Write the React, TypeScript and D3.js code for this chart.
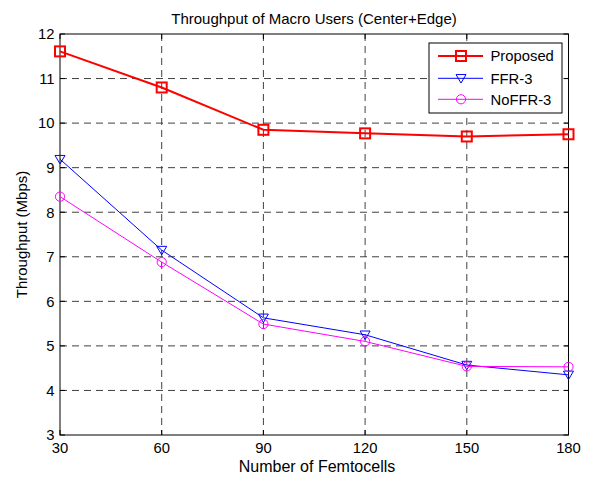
import React from "react";
import * as d3 from "d3";

const femtocells = [30, 60, 90, 120, 150, 180];
const proposed = [11.61, 10.8, 9.85, 9.77, 9.7, 9.75];
const ffr3 = [9.19, 7.15, 5.63, 5.25, 4.57, 4.35];
const noffr3 = [8.35, 6.88, 5.49, 5.1, 4.54, 4.53];
const xTicks = [30, 60, 90, 120, 150, 180];
const yTicks = [3, 4, 5, 6, 7, 8, 9, 10, 11, 12];
const seriesNames = ["Proposed", "FFR-3", "NoFFR-3"];

const W = 591, H = 477;
const M = { left: 60, right: 568.5, top: 34, bottom: 435 };
const FONT = "Liberation Sans, Arial, sans-serif";
const FS = 14.8;

function Marker({ type, x, y, color }: { type: string; x: number; y: number; color: string }) {
  if (type === "square") {
    return <rect x={x - 5} y={y - 5} width={10} height={10} fill="none" stroke={color} strokeWidth={2} />;
  }
  if (type === "tri") {
    const s = 5;
    return <path d={`M${x - s},${y - s * 0.75}L${x + s},${y - s * 0.75}L${x},${y + s * 0.95}Z`} fill="none" stroke={color} strokeWidth={1} />;
  }
  return <circle cx={x} cy={y} r={4.6} fill="none" stroke={color} strokeWidth={1} />;
}

export default function App() {
  const x = d3.scaleLinear().domain([30, 180]).range([M.left, M.right]);
  const y = d3.scaleLinear().domain([3, 12]).range([M.bottom, M.top]);
  const line = d3.line<number>().x((_, i) => x(femtocells[i])).y((d) => y(d));

  const series = [
    { name: seriesNames[0], data: proposed, color: "#ff0000", width: 2, marker: "square" },
    { name: seriesNames[1], data: ffr3, color: "#0000ff", width: 1, marker: "tri" },
    { name: seriesNames[2], data: noffr3, color: "#ff00ff", width: 1, marker: "circle" },
  ];

  const grid = "#404040";
  const legend = { x: 429, y: 43, w: 133, h: 70 };
  const rowY = [56, 78.3, 99.3];

  return (
    <svg width={W} height={H} style={{ position: "absolute", left: 0, top: 0, background: "#fff" }} fontFamily={FONT}>
      <rect x={0} y={0} width={W} height={H} fill="#fff" />
      {xTicks.slice(1, -1).map((t) => (
        <line key={"gx" + t} x1={x(t)} x2={x(t)} y1={M.top} y2={M.bottom} stroke={grid} strokeWidth={1} strokeDasharray="7,5" />
      ))}
      {yTicks.slice(1, -1).map((t) => (
        <line key={"gy" + t} x1={M.left} x2={M.right} y1={y(t)} y2={y(t)} stroke={grid} strokeWidth={1} strokeDasharray="7,5" />
      ))}
      {xTicks.map((t) => (
        <g key={"tx" + t}>
          <line x1={x(t)} x2={x(t)} y1={M.bottom} y2={M.bottom - 5} stroke="#000" />
          <line x1={x(t)} x2={x(t)} y1={M.top} y2={M.top + 5} stroke="#000" />
          <text x={x(t)} y={453} fontSize={FS} textAnchor="middle" fill="#000">{t}</text>
        </g>
      ))}
      {yTicks.map((t) => (
        <g key={"ty" + t}>
          <line x1={M.left} x2={M.left + 5} y1={y(t)} y2={y(t)} stroke="#000" />
          <line x1={M.right} x2={M.right - 5} y1={y(t)} y2={y(t)} stroke="#000" />
          <text x={M.left - 5.5} y={y(t) + 5.3} fontSize={FS} textAnchor="end" fill="#000">{t}</text>
        </g>
      ))}
      <rect x={M.left} y={M.top} width={M.right - M.left} height={M.bottom - M.top} fill="none" stroke="#000" strokeWidth={1} />
      {series.map((s) => (
        <g key={s.name}>
          <path d={line(s.data) || ""} fill="none" stroke={s.color} strokeWidth={s.width} />
          {s.data.map((v, i) => (
            <Marker key={i} type={s.marker} x={x(femtocells[i])} y={y(v)} color={s.color} />
          ))}
        </g>
      ))}
      <rect x={legend.x} y={legend.y} width={legend.w} height={legend.h} fill="#fff" stroke="#000" strokeWidth={1} />
      {series.map((s, i) => (
        <g key={"lg" + s.name}>
          <line x1={438} x2={483} y1={rowY[i]} y2={rowY[i]} stroke={s.color} strokeWidth={s.width} />
          <Marker type={s.marker} x={461} y={rowY[i]} color={s.color} />
          <text x={490.5} y={rowY[i] + 5.3} fontSize={FS} fill="#000">{s.name}</text>
        </g>
      ))}
      <text x={314} y={24} fontSize={15} textAnchor="middle" fill="#000">Throughput of Macro Users (Center+Edge)</text>
      <text x={317} y={471.5} fontSize={16} textAnchor="middle" fill="#000">Number of Femtocells</text>
      <text transform={`translate(27,${(M.top + M.bottom) / 2}) rotate(-90)`} fontSize={15} textAnchor="middle" fill="#000">Throughput (Mbps)</text>
    </svg>
  );
}
